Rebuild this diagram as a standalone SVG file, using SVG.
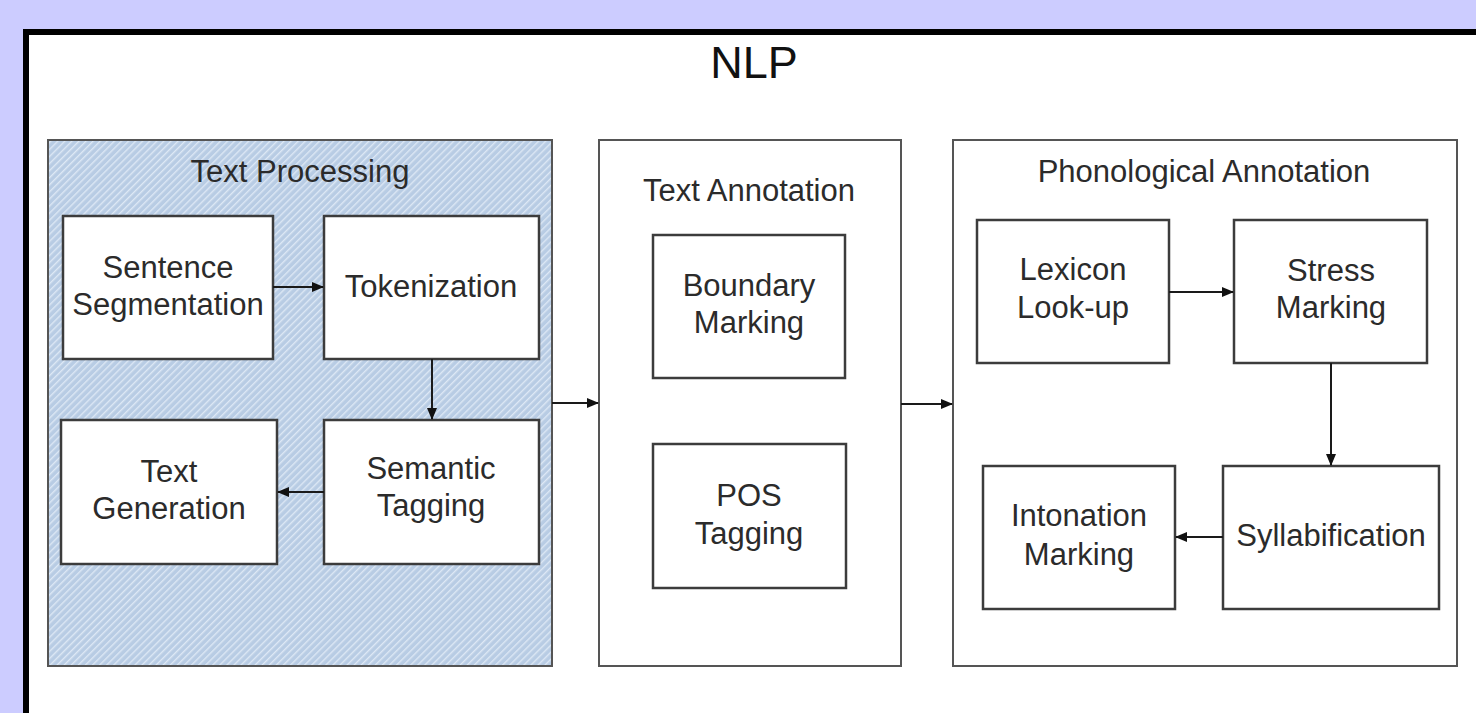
<svg xmlns="http://www.w3.org/2000/svg" width="1476" height="713" viewBox="0 0 1476 713">
  <style>
    .t { font-family: "Liberation Sans", Arial, sans-serif; font-size: 31px; fill: #2b2b2b; text-anchor: middle; }
    .title { font-family: "Liberation Sans", Arial, sans-serif; font-size: 45px; fill: #111; text-anchor: middle; }
    .cont { fill: #ffffff; stroke: #555555; stroke-width: 2; }
    .node { fill: #ffffff; stroke: #3c3c3c; stroke-width: 2.5; }
    .conn { stroke: #1a1a1a; stroke-width: 2; fill: none; marker-end: url(#arr); }
  </style>
  <defs>
    <pattern id="hatch" patternUnits="userSpaceOnUse" width="5" height="5" patternTransform="rotate(45)">
      <rect x="0" y="0" width="5" height="5" fill="#b8cce4"/>
      <rect x="0" y="0" width="1.4" height="5" fill="#dde8f5"/>
    </pattern>
    <marker id="arr" markerWidth="12" markerHeight="10" refX="11" refY="5" orient="auto" markerUnits="userSpaceOnUse">
      <path d="M0,0 L12,5 L0,10 Z" fill="#111111"/>
    </marker>
  </defs>

  <rect x="0" y="0" width="1476" height="713" fill="#ccccff"/>
  <rect id="frame" x="26" y="32" width="1500" height="800" fill="#ffffff" stroke="#000000" stroke-width="6"/>
  <text class="title" x="754" y="78">NLP</text>

  <g id="text-processing">
    <rect x="48" y="140" width="504" height="526" fill="url(#hatch)" stroke="#555555" stroke-width="2"/>
    <text class="t" x="300" y="182">Text Processing</text>
  </g>
  <g id="text-annotation">
    <rect class="cont" x="599" y="140" width="302" height="526"/>
    <text class="t" x="749" y="201">Text Annotation</text>
  </g>
  <g id="phonological-annotation">
    <rect class="cont" x="953" y="140" width="504" height="526"/>
    <text class="t" x="1204" y="182">Phonological Annotation</text>
  </g>

  <g id="sentence-segmentation">
    <rect class="node" x="63" y="216" width="210" height="143"/>
    <text class="t" x="168" y="278">Sentence</text>
    <text class="t" x="168" y="315">Segmentation</text>
  </g>
  <g id="tokenization">
    <rect class="node" x="324" y="216" width="215" height="143"/>
    <text class="t" x="431" y="297">Tokenization</text>
  </g>
  <g id="text-generation">
    <rect class="node" x="61" y="420" width="216" height="144"/>
    <text class="t" x="169" y="482">Text</text>
    <text class="t" x="169" y="519">Generation</text>
  </g>
  <g id="semantic-tagging">
    <rect class="node" x="324" y="420" width="215" height="144"/>
    <text class="t" x="431" y="479">Semantic</text>
    <text class="t" x="431" y="516">Tagging</text>
  </g>

  <g id="boundary-marking">
    <rect class="node" x="653" y="235" width="192" height="143"/>
    <text class="t" x="749" y="296">Boundary</text>
    <text class="t" x="749" y="333">Marking</text>
  </g>
  <g id="pos-tagging">
    <rect class="node" x="653" y="444" width="193" height="144"/>
    <text class="t" x="749" y="506">POS</text>
    <text class="t" x="749" y="544">Tagging</text>
  </g>

  <g id="lexicon-lookup">
    <rect class="node" x="977" y="220" width="192" height="143"/>
    <text class="t" x="1073" y="280">Lexicon</text>
    <text class="t" x="1073" y="318">Look-up</text>
  </g>
  <g id="stress-marking">
    <rect class="node" x="1234" y="220" width="193" height="143"/>
    <text class="t" x="1331" y="281">Stress</text>
    <text class="t" x="1331" y="318">Marking</text>
  </g>
  <g id="intonation-marking">
    <rect class="node" x="983" y="466" width="192" height="143"/>
    <text class="t" x="1079" y="526">Intonation</text>
    <text class="t" x="1079" y="565">Marking</text>
  </g>
  <g id="syllabification">
    <rect class="node" x="1223" y="466" width="216" height="143"/>
    <text class="t" x="1331" y="546">Syllabification</text>
  </g>

  <g id="connectors">
    <line class="conn" x1="273" y1="287" x2="323" y2="287"/>
    <line class="conn" x1="432" y1="359" x2="432" y2="419"/>
    <line class="conn" x1="324" y1="492" x2="278" y2="492"/>
    <line class="conn" x1="552" y1="403" x2="598" y2="403"/>
    <line class="conn" x1="901" y1="404" x2="952" y2="404"/>
    <line class="conn" x1="1169" y1="292" x2="1233" y2="292"/>
    <line class="conn" x1="1331" y1="363" x2="1331" y2="465"/>
    <line class="conn" x1="1223" y1="537" x2="1176" y2="537"/>
  </g>
</svg>
